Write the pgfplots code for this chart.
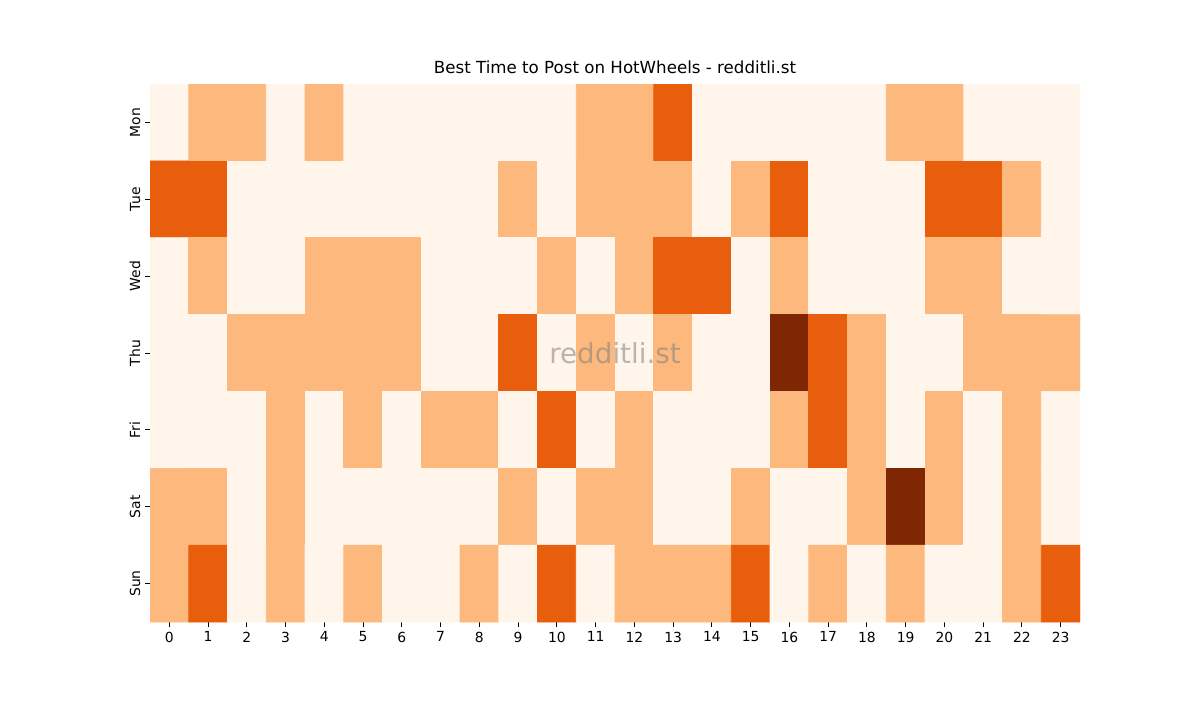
\documentclass[border=0pt]{standalone}
\usepackage{pgfplots}
\pgfplotsset{compat=1.18}
\usepackage{fontspec}
\setmainfont{DejaVu Sans}
\definecolor{c0}{HTML}{FFF5EB}
\definecolor{c1}{HTML}{FDB97D}
\definecolor{c2}{HTML}{E95E0D}
\definecolor{c3}{HTML}{7F2704}
\begin{document}
\begin{tikzpicture}[x=1pt,y=1pt]
\path (0,0) rectangle (864,504);
\begin{axis}[
  at={(108pt,56.16pt)}, anchor=south west,
  scale only axis, width=669.6pt, height=387.36pt,
  xmin=-0.5, xmax=23.5, ymin=-0.5, ymax=6.5,
  y dir=reverse,
  axis line style={draw=none},
  xtick={0,...,23}, ytick={0,...,6},
  yticklabels={Mon,Tue,Wed,Thu,Fri,Sat,Sun},
  yticklabel style={rotate=90, anchor=south},
  xtick pos=bottom, ytick pos=left,
  tick align=outside, major tick length=3.5pt,
  tick style={black, line width=0.6pt},
  ticklabel style={font=\fontsize{10}{12}\selectfont},
  /pgf/number format/assume math mode=true,
  title={Best Time to Post on HotWheels - redditli.st},
  title style={font=\fontsize{12}{14}\selectfont, yshift=-2pt},
  colormap={hm}{color(0)=(c0) color(1)=(c1) color(2)=(c2) color(3)=(c3)},
  point meta min=0, point meta max=3,
  enlargelimits=false,
]
\addplot[matrix plot*, mesh/cols=24, point meta=explicit] table[meta=c] {
x y c
0 0 0
1 0 1
2 0 1
3 0 0
4 0 1
5 0 0
6 0 0
7 0 0
8 0 0
9 0 0
10 0 0
11 0 1
12 0 1
13 0 2
14 0 0
15 0 0
16 0 0
17 0 0
18 0 0
19 0 1
20 0 1
21 0 0
22 0 0
23 0 0
0 1 2
1 1 2
2 1 0
3 1 0
4 1 0
5 1 0
6 1 0
7 1 0
8 1 0
9 1 1
10 1 0
11 1 1
12 1 1
13 1 1
14 1 0
15 1 1
16 1 2
17 1 0
18 1 0
19 1 0
20 1 2
21 1 2
22 1 1
23 1 0
0 2 0
1 2 1
2 2 0
3 2 0
4 2 1
5 2 1
6 2 1
7 2 0
8 2 0
9 2 0
10 2 1
11 2 0
12 2 1
13 2 2
14 2 2
15 2 0
16 2 1
17 2 0
18 2 0
19 2 0
20 2 1
21 2 1
22 2 0
23 2 0
0 3 0
1 3 0
2 3 1
3 3 1
4 3 1
5 3 1
6 3 1
7 3 0
8 3 0
9 3 2
10 3 0
11 3 1
12 3 0
13 3 1
14 3 0
15 3 0
16 3 3
17 3 2
18 3 1
19 3 0
20 3 0
21 3 1
22 3 1
23 3 1
0 4 0
1 4 0
2 4 0
3 4 1
4 4 0
5 4 1
6 4 0
7 4 1
8 4 1
9 4 0
10 4 2
11 4 0
12 4 1
13 4 0
14 4 0
15 4 0
16 4 1
17 4 2
18 4 1
19 4 0
20 4 1
21 4 0
22 4 1
23 4 0
0 5 1
1 5 1
2 5 0
3 5 1
4 5 0
5 5 0
6 5 0
7 5 0
8 5 0
9 5 1
10 5 0
11 5 1
12 5 1
13 5 0
14 5 0
15 5 1
16 5 0
17 5 0
18 5 1
19 5 3
20 5 1
21 5 0
22 5 1
23 5 0
0 6 1
1 6 2
2 6 0
3 6 1
4 6 0
5 6 1
6 6 0
7 6 0
8 6 1
9 6 0
10 6 2
11 6 0
12 6 1
13 6 1
14 6 1
15 6 2
16 6 0
17 6 1
18 6 0
19 6 1
20 6 0
21 6 0
22 6 1
23 6 2
};
\node[text=gray, opacity=0.55, font=\fontsize{20}{24}\selectfont] at (axis cs:11.5,3) {redditli.st};
\end{axis}
\end{tikzpicture}
\end{document}
